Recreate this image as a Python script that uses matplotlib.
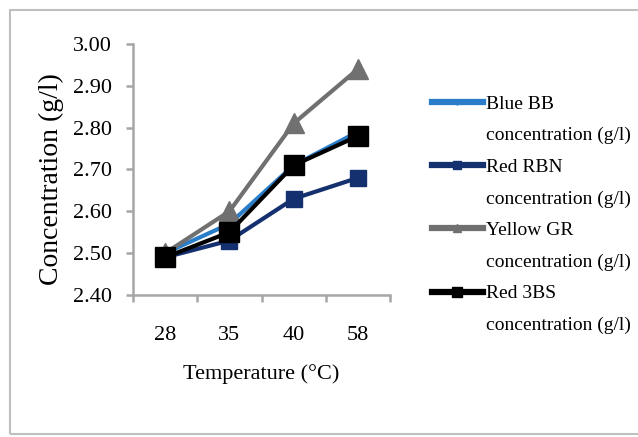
import matplotlib
matplotlib.use("Agg")
import matplotlib.pyplot as plt
from matplotlib.lines import Line2D
from matplotlib.patches import Rectangle

# ---- data ----
temperatures = ["28", "35", "40", "58"]
blue_bb = [2.50, 2.57, 2.71, 2.79]
red_rbn = [2.49, 2.53, 2.63, 2.68]
yellow_gr = [2.50, 2.60, 2.81, 2.94]
red_3bs = [2.49, 2.55, 2.71, 2.78]
series_names = ["Blue BB", "Red RBN", "Yellow GR", "Red 3BS"]
series_unit = "concentration (g/l)"
y_ticks = [2.40, 2.50, 2.60, 2.70, 2.80, 2.90, 3.00]
x_label = "Temperature (°C)"
y_label = "Concentration (g/l)"

plt.rcParams['font.family'] = ['Liberation Serif', 'DejaVu Serif']

W, H = 638, 437
fig = plt.figure(figsize=(W / 100, H / 100), dpi=100)

# outer frame (right edge lies outside the image, as in the reference)
fig.add_artist(Rectangle((10 / W, 1 - 434 / H), 680 / W, 424 / H,
                         transform=fig.transFigure, fill=False,
                         edgecolor="#BFBFBF", linewidth=1.5))

ax = fig.add_axes([133 / W, 1 - 295 / H, (390 - 133) / W, (295 - 44) / H])

xs = list(range(len(temperatures)))
styles = [
    dict(color="#2A7DC8", marker="D", markersize=6),
    dict(color="#14306E", marker="s", markersize=12),
    dict(color="#707070", marker="^", markersize=14),
    dict(color="#000000", marker="s", markersize=15),
]
data = [blue_bb, red_rbn, yellow_gr, red_3bs]
handles = []
for name, vals, st in zip(series_names, data, styles):
    ln, = ax.plot(xs, vals, linewidth=3, color=st["color"], marker=st["marker"],
                  markersize=st["markersize"], markeredgecolor=st["color"],
                  markerfacecolor=st["color"], label=name)
    handles.append(ln)

ax.set_xlim(-0.5, len(temperatures) - 0.5)
ax.set_ylim(2.40, 3.00)
ax.set_yticks(y_ticks)
ax.set_yticklabels([f"{v:.2f}" for v in y_ticks])
ax.set_xticks(xs)
ax.set_xticklabels(temperatures)
ax.set_xticks([i - 0.5 for i in range(len(temperatures) + 1)], minor=True)

for s in ["top", "right"]:
    ax.spines[s].set_visible(False)
for s in ["left", "bottom"]:
    ax.spines[s].set_color("#A6A6A6")
    ax.spines[s].set_linewidth(1.8)

ax.tick_params(axis="x", which="major", length=0, pad=22, labelsize=16)
ax.tick_params(axis="x", which="minor", length=5, width=1.8, color="#A6A6A6", direction="out")
ax.tick_params(axis="y", which="major", length=5, width=1.8, color="#A6A6A6",
               direction="out", pad=10, labelsize=16)

ax.set_xlabel(x_label, fontsize=16, labelpad=14)
ax.set_ylabel(y_label, fontsize=20, labelpad=6)
ax.yaxis.set_label_coords(-0.27, 0.46)

# legend: name rows followed by blank-handle unit rows
leg_handles, leg_labels = [], []
for h, name, st in zip(handles, series_names, styles):
    leg_handles.append(Line2D([], [], color=st["color"], linewidth=4.5, marker=st["marker"],
                              markersize=st["markersize"] * 0.45,
                              markerfacecolor=st["color"], markeredgecolor=st["color"]))
    leg_labels.append(name)
    leg_handles.append(Line2D([], [], linestyle="none", marker=None))
    leg_labels.append(series_unit)

leg = fig.legend(leg_handles, leg_labels, loc="upper left",
                 bbox_to_anchor=(432 / W, 1 - 95 / H), frameon=False,
                 fontsize=14, handlelength=2.6, handletextpad=0.2,
                 labelspacing=0.72, borderpad=0, borderaxespad=0)

fig.savefig("out.png", dpi=100)
